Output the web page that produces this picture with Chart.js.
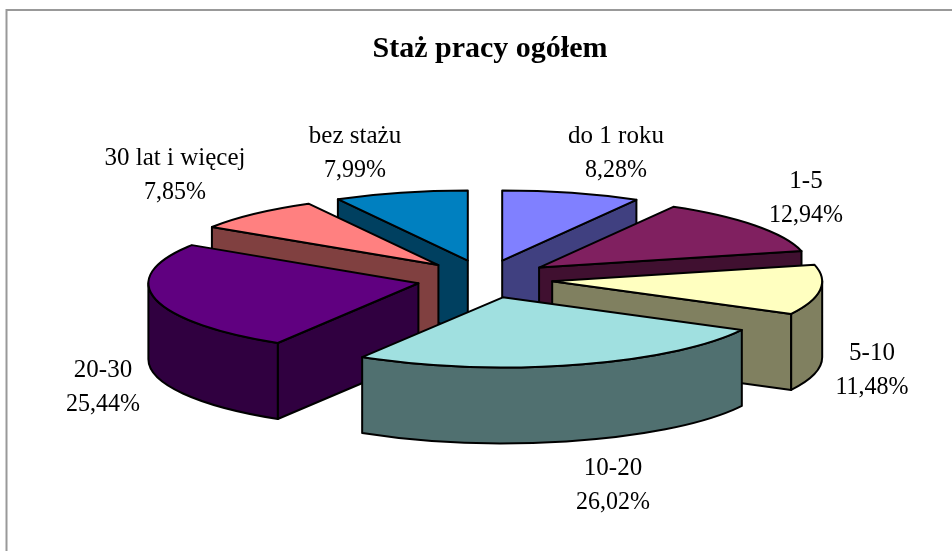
<!DOCTYPE html>
<html>
<head>
<meta charset="utf-8">
<title>Staż pracy ogółem</title>
<script src="https://cdn.jsdelivr.net/npm/chart.js@4/dist/chart.umd.min.js"></script>
<style>
  html, body { margin: 0; padding: 0; background: #fff; }
  canvas { display: block; }
</style>
</head>
<body>
<canvas id="pie" width="952" height="551"></canvas>
<script>
const categories = ["do 1 roku", "1-5", "5-10", "10-20", "20-30", "30 lat i więcej", "bez stażu"];
const shares = [8.28, 12.94, 11.48, 26.02, 25.44, 7.85, 7.99];
const topColors = ["#8080FF", "#802060", "#FFFFC0", "#A0E0E0", "#600080", "#FF8080", "#0080C0"];
const wallColors = ["#404080", "#401030", "#808060", "#507070", "#300040", "#804040", "#004060"];

// the label text does not follow the slices exactly, so centre x and first baseline are set by hand
const labelX = [616, 806, 872, 613, 103, 175, 355];
const labelY = [143, 188, 360, 475, 377, 165, 143];
const lineGap = 34;

// 3D look
const pieX = 484.7, pieY = 279;
const tilt = 70 / 270;
const explodeTilt = 0.28;
const explode = 68;
const depth = 76;
const paintOrder = [0, 6, 1, 5, 2, 4, 3]; // back to front

const textFont = '25px "Liberation Serif"';

const pie3d = {
  id: "pie3d",
  beforeDraw(chart) {
    const ctx = chart.ctx;
    ctx.save();
    ctx.strokeStyle = "#999999";
    ctx.lineWidth = 2;
    ctx.beginPath();
    ctx.moveTo(6.5, 551);
    ctx.lineTo(6.5, 10);
    ctx.lineTo(952, 10);
    ctx.stroke();
    ctx.restore();
  },
  beforeDatasetsDraw(chart) {
    const ctx = chart.ctx;
    const arcs = chart.getDatasetMeta(0).data;

    paintOrder.forEach((i) => {
      const arc = arcs[i];
      const a0 = arc.startAngle, a1 = arc.endAngle;
      const mid = (a0 + a1) / 2;
      const r = arc.outerRadius;
      const ax = pieX + Math.cos(mid) * explode;
      const ay = pieY + Math.sin(mid) * explode * explodeTilt;
      const ry = r * tilt;
      const px = (a) => ax + Math.cos(a) * r;
      const py = (a) => ay + Math.sin(a) * ry;

      ctx.save();
      ctx.lineWidth = 2;
      ctx.lineJoin = "round";
      ctx.strokeStyle = "#000";
      ctx.fillStyle = wallColors[i];

      const radialWall = (a) => {
        ctx.beginPath();
        ctx.moveTo(ax, ay);
        ctx.lineTo(px(a), py(a));
        ctx.lineTo(px(a), py(a) + depth);
        ctx.lineTo(ax, ay + depth);
        ctx.closePath();
        ctx.fill();
        ctx.stroke();
      };
      if (Math.sin(a0 - Math.PI / 2) > 0.001) radialWall(a0);
      if (Math.sin(a1 + Math.PI / 2) > 0.001) radialWall(a1);

      const from = Math.max(a0, 0), to = Math.min(a1, Math.PI);
      if (to > from) {
        ctx.beginPath();
        ctx.ellipse(ax, ay, r, ry, 0, from, to);
        ctx.ellipse(ax, ay + depth, r, ry, 0, to, from, true);
        ctx.closePath();
        ctx.fill();
        ctx.stroke();
      }

      // top face: the library's own arc, squashed and moved out
      ctx.save();
      ctx.translate(ax, ay);
      ctx.scale(1, tilt);
      ctx.translate(-arc.x, -arc.y);
      arc.draw(ctx);
      ctx.restore();

      ctx.beginPath();
      ctx.moveTo(ax, ay);
      ctx.ellipse(ax, ay, r, ry, 0, a0, a1);
      ctx.closePath();
      ctx.stroke();
      ctx.restore();
    });
    return false;
  },
  afterDraw(chart) {
    const ctx = chart.ctx;
    ctx.save();
    ctx.font = textFont;
    ctx.fillStyle = "#000";
    ctx.textAlign = "center";
    ctx.textBaseline = "alphabetic";
    categories.forEach((name, i) => {
      ctx.fillText(name, labelX[i], labelY[i]);
      const pct = shares[i].toFixed(2).replace(".", ",") + "%";
      // digits sit a bit narrower in the original
      ctx.fillText(pct, labelX[i], labelY[i] + lineGap, ctx.measureText(pct).width * 0.96);
    });
    ctx.restore();
  },
};

new Chart(document.getElementById("pie"), {
  type: "pie",
  data: {
    labels: categories,
    datasets: [{ data: shares, backgroundColor: topColors, borderWidth: 0 }],
  },
  options: {
    responsive: false,
    animation: false,
    events: [],
    radius: 270,
    layout: { padding: { left: 28, top: 31 } },
    plugins: {
      legend: { display: false },
      tooltip: { enabled: false },
      title: {
        display: true,
        text: "Staż pracy ogółem",
        color: "#000",
        font: { family: "Liberation Serif", size: 30, weight: "bold" },
        padding: 0,
      },
    },
  },
  plugins: [pie3d],
});
</script>
</body>
</html>
